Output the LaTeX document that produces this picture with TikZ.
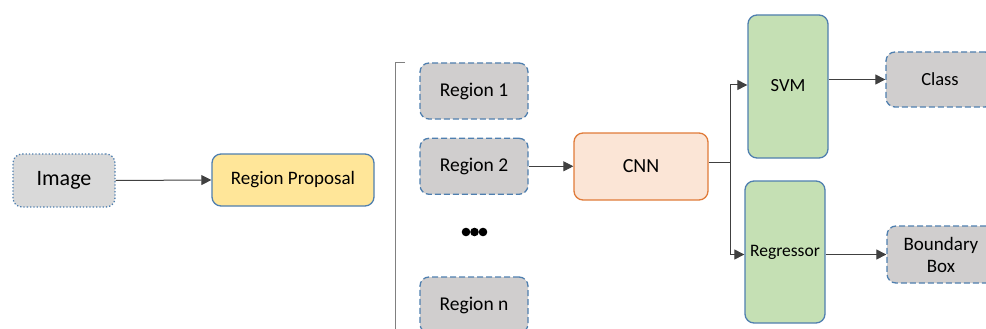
\documentclass[tikz,border=0pt]{standalone}
\usepackage{fontspec}
\setmainfont{Carlito}
\usetikzlibrary{arrows.meta, positioning}

\definecolor{edgeblue}{HTML}{4F7FAF}
\definecolor{boxgray}{HTML}{D0CECE}
\definecolor{imggray}{HTML}{D9D9D9}
\definecolor{propyellow}{HTML}{FFE699}
\definecolor{cnnfill}{HTML}{FBE5D6}
\definecolor{cnnedge}{HTML}{E07B39}
\definecolor{clsgreen}{HTML}{C5E0B4}
\definecolor{linegray}{HTML}{404040}

\begin{document}
\begin{tikzpicture}[
            x = 1pt, y = -1pt,
            > = {Triangle[length=10pt, width=10pt]},
            node distance = 18pt
        ]

        \tikzstyle{box}=[
            draw = edgeblue,
            line width = 1.3pt,
            rounded corners = 9pt,
            inner sep = 0pt,
            align = center
        ]
        \tikzstyle{region}=[box, fill = boxgray, dash pattern = on 6pt off 3pt,
            minimum width = 108pt, minimum height = 56pt, font = \fontsize{19.5}{22}\selectfont]
        \tikzstyle{classifier}=[box, fill = clsgreen, minimum width = 80pt, minimum height = 142pt]
        \tikzstyle{link}=[->, draw = linegray, line width = 1pt]

        \useasboundingbox (0,0) rectangle (986,329);
        \clip (0,0) rectangle (986,329);

        \node[box, fill = imggray, dotted, minimum width = 102pt, minimum height = 53pt,
            font = \fontsize{22}{25}\selectfont] (img) at (64,180.5) {Image};
        \node[box, fill = propyellow, minimum width = 162pt, minimum height = 52pt,
            font = \fontsize{19}{22}\selectfont] (prop) at (293,180) {Region Proposal};

        \node[region] (r1) at (474,91) {Region 1};
        \node[region] (r2) [below=of r1] {Region 2};
        \node[region] (rn) at (474,305) {Region n};
        \node (dots) at (474.5,232) {};
        \foreach \dx in {-8.5,0,8.5}
            \fill (dots) ++(\dx,0) circle (4.3);

        % bracket in front of the regions
        \draw[gray, line width = 1pt] (405,63) -- (395,63) -- (395,340);

        \node[box, draw = cnnedge, fill = cnnfill, minimum width = 134pt, minimum height = 67pt,
            font = \fontsize{20}{23}\selectfont] (cnn) at (641,166.5) {CNN};
        \coordinate (fork) at (730,162);

        \node[classifier, minimum height = 143pt, font = \fontsize{18.5}{21}\selectfont] (svm) at (788,86.5) {\raisebox{3pt}{SVM}};
        \node[classifier, font = \fontsize{17.5}{20}\selectfont] (reg) at (785,252) {Regressor};

        \node[region, minimum height = 55pt, font = \fontsize{18.5}{21}\selectfont] (cls) at (940,79.5) {Class};
        \node[region, minimum height = 57pt, font = \fontsize{19}{22}\selectfont] (bb) at (941,254.5) {Boundary\\Box};

        \draw[link] (img.east) -- (prop.west);
        \draw[link] (r2.east) -- (cnn.west |- r2.east);
        \draw[draw = linegray, line width = 1pt] (cnn.east |- fork) -- (fork);
        \draw[link] (fork) |- (svm.west |- 0,85);
        \draw[link] (fork) |- (reg.west |- bb.west);
        \draw[link] (svm.east |- cls.west) -- (cls.west);
        \draw[link] (reg.east |- bb.west) -- (bb.west);

    \end{tikzpicture}
\end{document}
